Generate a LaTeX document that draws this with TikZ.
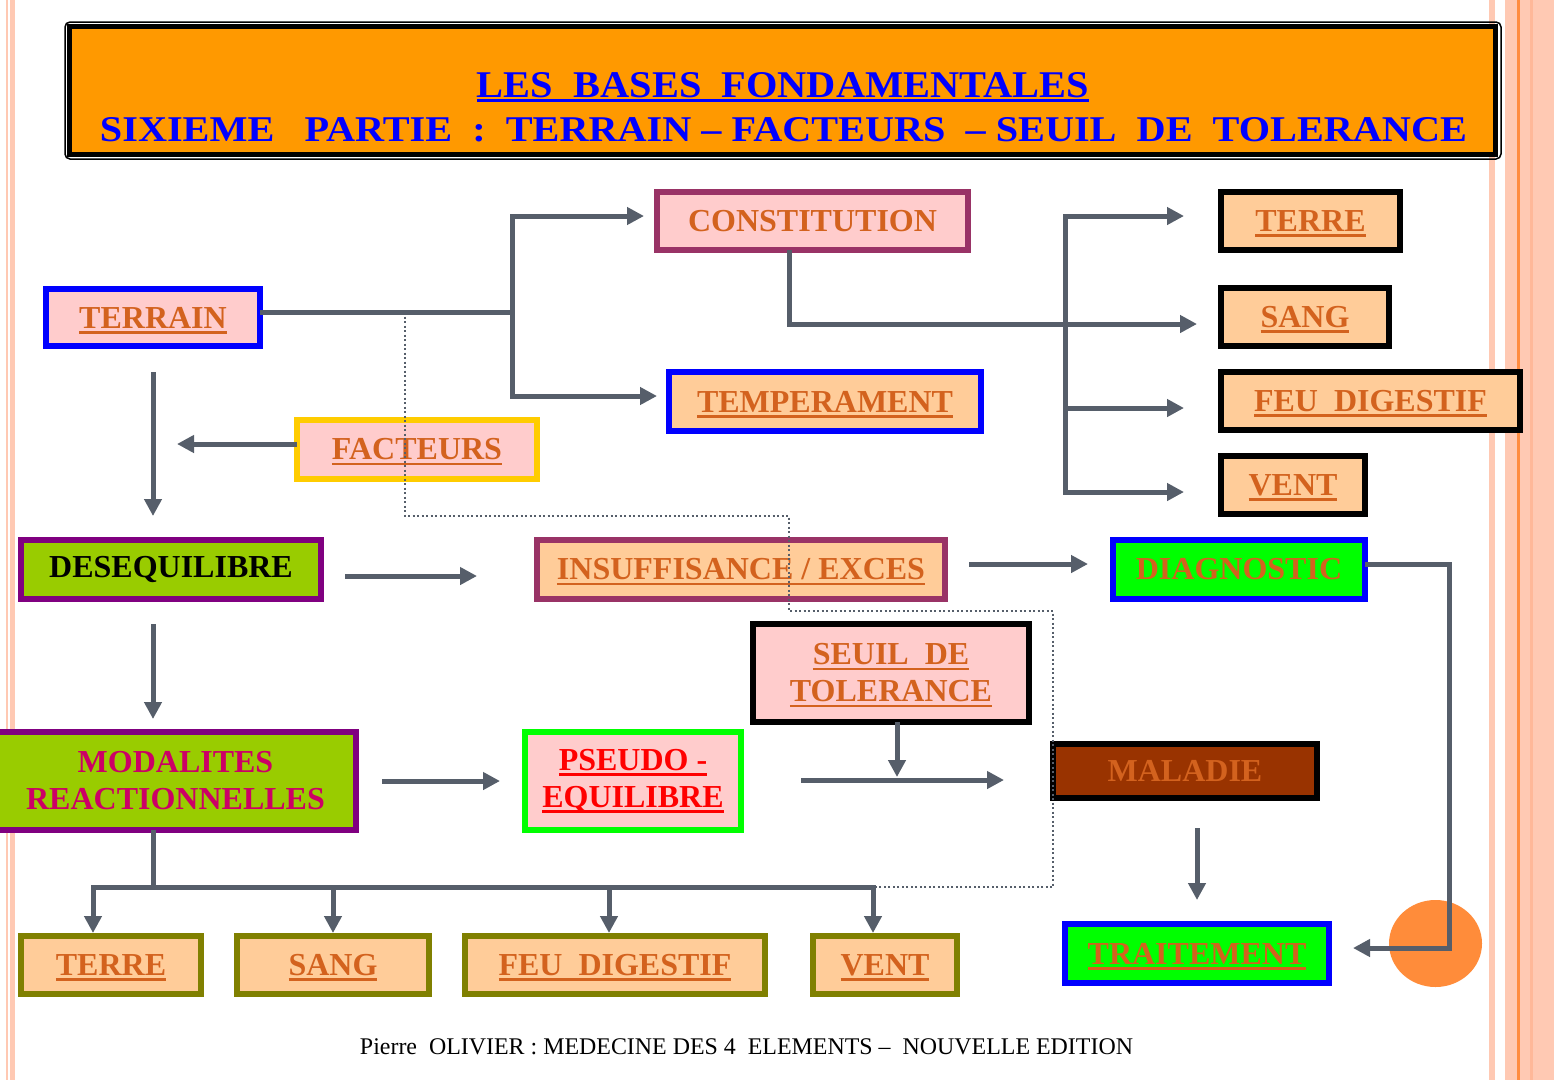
\documentclass[tikz,border=0pt]{standalone}
\usepackage{fontspec}
\setmainfont{Liberation Serif}
\usepackage{graphicx}
\usetikzlibrary{arrows.meta}
\definecolor{linegray}{RGB}{86,94,106}
\definecolor{pinkF}{HTML}{FFCCCC}
\definecolor{peachF}{HTML}{FFCC99}
\definecolor{greenF}{HTML}{00FF00}
\definecolor{limeF}{HTML}{99CC00}
\definecolor{purpB}{HTML}{800080}
\definecolor{roseB}{HTML}{993366}
\definecolor{goldB}{HTML}{FFCC00}
\definecolor{oliveB}{HTML}{808000}
\definecolor{brownF}{HTML}{993300}
\definecolor{magT}{HTML}{CC0066}
\definecolor{txt}{RGB}{211,98,30}
\definecolor{stripeP}{HTML}{FFC9B3}
\definecolor{stripeO}{HTML}{FF8C40}
\definecolor{stripeD}{HTML}{FFB899}
\definecolor{ellC}{HTML}{FF8C3A}
\definecolor{titleF}{HTML}{FF9900}
\newcommand\ulx[2][-5.5pt]{\leavevmode\setbox0=\hbox{#2}\rlap{\smash{\rule[#1]{\wd0}{2.7pt}}}\box0}
\begin{document}
\begin{tikzpicture}[x=1pt,y=-1pt,
  box/.style={draw, line width=6pt, inner sep=0pt, outer sep=0pt, align=center,
    font=\bfseries\fontsize{32}{37}\selectfont, text=txt},
  conn/.style={draw=linegray, line width=5pt},
  arr/.style={conn, -{Triangle[length=17pt,width=17pt]}},
  dotline/.style={draw=linegray, line width=2.2pt, dash pattern=on 2pt off 2.5pt}]
\useasboundingbox (0,0) rectangle (1554,1080);
\fill[white] (0,0) rectangle (1554,1080);
% side stripes
\fill[stripeP] (6,0) rectangle (15,1080);
\fill[white] (8,0) rectangle (9.5,1080);
\fill[stripeP] (1489,0) rectangle (1495,1080);
\fill[stripeP] (1505,0) rectangle (1554,1080);
\fill[stripeO] (1517,0) rectangle (1519.5,1080);
\fill[stripeD] (1530,0) rectangle (1533,1080);
% title
\draw[line width=1.5pt, rounded corners=5pt] (65,22) rectangle (1501,159);
\node[draw=black, line width=5pt, fill=titleF, minimum width=1426pt, minimum height=128pt, inner sep=0pt] (titlebox) at (782.5,90.5) {};
\node[anchor=base, inner sep=0pt, text=blue] (title1) at (783,97)
  {\resizebox{612pt}{25pt}{\bfseries\fontsize{37}{40}\selectfont\ulx[-4.5pt]{LES\ \ BASES\ \ FONDAMENTALES}}};
\node[anchor=base, inner sep=0pt, text=blue] (title2) at (783.5,141)
  {\resizebox{1367pt}{24pt}{\bfseries\fontsize{37}{40}\selectfont SIXIEME\ \ \ PARTIE\ \ :\ \ TERRAIN -- FACTEURS\ \ -- SEUIL\ \ DE\ \ TOLERANCE}};
% nodes
\node[box, draw=roseB, fill=pinkF, minimum width=311pt, minimum height=58pt] (constitution) at (812.5,221) {CONSTITUTION};
\node[box, draw=blue, fill=pinkF, minimum width=214pt, minimum height=57pt] (terrain) at (153,317.5) {\ulx{TERRAIN}};
\node[box, draw=blue, fill=peachF, minimum width=312pt, minimum height=59pt] (temperament) at (825,401.5) {\ulx{TEMPERAMENT}};
\node[box, draw=goldB, fill=pinkF, minimum width=240pt, minimum height=59pt] (facteurs) at (417,449.5) {\ulx{FACTEURS}};
\node[box, draw=black, fill=peachF, minimum width=179pt, minimum height=58pt] (terreR) at (1310.5,221) {\ulx{TERRE}};
\node[box, draw=black, fill=peachF, minimum width=168pt, minimum height=58pt] (sangR) at (1305,317) {\ulx{SANG}};
\node[box, draw=black, fill=peachF, minimum width=299pt, minimum height=58pt] (feuR) at (1370.5,401) {\ulx{FEU\ \ DIGESTIF}};
\node[box, draw=black, fill=peachF, minimum width=144pt, minimum height=58pt] (ventR) at (1293,485) {\ulx{VENT}};
\node[box, draw=purpB, fill=limeF, text=black, minimum width=300pt, minimum height=59pt] (deseq) at (171,569.5) {DESEQUILIBRE};
\node[box, draw=roseB, fill=peachF, minimum width=408pt, minimum height=59pt] (insuff) at (741,569.5) {\ulx{INSUFFISANCE / EXCES}};
\node[box, draw=blue, fill=greenF, minimum width=252pt, minimum height=59pt] (diag) at (1239,569.5) {DIAGNOSTIC};
\node[box, draw=black, fill=pinkF, minimum width=276pt, minimum height=98pt] (seuil) at (891,673) {\ulx{SEUIL\ \ DE}\\\ulx{TOLERANCE}};
\node[box, draw=black, fill=brownF, minimum width=264pt, minimum height=54pt] (maladie) at (1185,771) {MALADIE};
\node[box, draw=purpB, fill=limeF, text=magT, minimum width=361pt, minimum height=98pt] (modal) at (175.5,781) {MODALITES\\REACTIONNELLES};
\node[box, draw=greenF, fill=pinkF, text=red, minimum width=216pt, minimum height=98pt] (pseudo) at (633,781) {\ulx{PSEUDO -}\\\ulx{EQUILIBRE}};
\node[box, draw=blue, fill=greenF, minimum width=264pt, minimum height=59pt] (trait) at (1197,953.5) {\ulx{TRAITEMENT}};
\node[box, draw=oliveB, fill=peachF, minimum width=180pt, minimum height=58pt] (terreB) at (111,965) {\ulx{TERRE}};
\node[box, draw=oliveB, fill=peachF, minimum width=192pt, minimum height=58pt] (sangB) at (333,965) {\ulx{SANG}};
\node[box, draw=oliveB, fill=peachF, minimum width=300pt, minimum height=58pt] (feuB) at (615,965) {\ulx{FEU\ \ DIGESTIF}};
\node[box, draw=oliveB, fill=peachF, minimum width=144pt, minimum height=58pt] (ventB) at (885,965) {\ulx{VENT}};
% orange disc
\fill[ellC] (1435.5,943.5) ellipse [x radius=46.5pt, y radius=43.5pt];
% coordinates
\coordinate (tb) at (512,312);
\coordinate (bt) at (512,216);
\coordinate (bb) at (512,396);
\coordinate (cd) at (789,324);
\coordinate (rt) at (1065,216);
\coordinate (rm) at (1065,408);
\coordinate (rb) at (1065,492);
\coordinate (ftip) at (177,444);
\coordinate (loop) at (1449,948);
\coordinate (pm) at (897,780);
\coordinate (mb) at (153,887);
\coordinate (bl) at (93,887);
\coordinate (br) at (873,887);
\coordinate (fb) at (609,887);
\coordinate (d0) at (405,312);
\coordinate (d1) at (789,516);
\coordinate (d2) at (1053,611);
% connectors
\draw[conn] (terrain.east |- tb) -- (tb);
\draw[arr, shorten >=13pt] (bb) -- (bt) -- (bt -| constitution.west);
\draw[arr, shorten >=12pt] (bt) -- (bb) -- (bb -| temperament.west);
\draw[arr, shorten >=24pt] (cd |- constitution.south) -- (cd) -- (cd -| sangR.west);
\draw[arr, shorten >=37pt] (rb) -- (rt) -- (rt -| terreR.west);
\draw[arr, shorten >=37pt] (rt) -- (rb) -- (rb -| ventR.west);
\draw[arr, shorten >=37pt] (rm) -- (rm -| feuR.west);
\draw[arr, shorten <=26pt, shorten >=24pt] (terrain.south) -- (terrain.south |- deseq.north);
\draw[arr] (ftip -| facteurs.west) -- (ftip);
\draw[arr, shorten <=24pt, shorten >=60pt] ([yshift=-6.5pt]deseq.east) -- ([yshift=-6.5pt]insuff.west);
\draw[arr, shorten <=25pt, shorten >=13pt] (terrain.south |- deseq.south) -- (terrain.south |- modal.north);
\draw[arr, shorten <=24pt, shorten >=25pt] ([yshift=5.5pt]insuff.east) -- ([yshift=5.5pt]diag.west);
\draw[arr, shorten >=24pt] ([yshift=5.5pt]diag.east) -| (loop) -- (loop -| trait.east);
\draw[arr, shorten <=26pt, shorten >=25pt] (modal.east) -- (pseudo.west);
\draw[arr, shorten <=60pt, shorten >=49pt] (pseudo.east |- pm) -- (pm -| maladie.west);
\draw[arr, shorten >=3pt] (seuil.south -| pm) -- (pm);
\draw[arr, shorten <=30pt, shorten >=24pt] (maladie.south -| trait.north) -- (trait.north);
\draw[conn] (modal.south -| mb) -- (mb);
\draw[arr, shorten >=3pt] (br) -- (bl) -- (bl |- terreB.north);
\draw[arr, shorten >=3pt] (bl) -- (br) -- (br |- ventB.north);
\draw[arr, shorten >=3pt] (sangB.north |- mb) -- (sangB.north);
\draw[arr, shorten >=3pt] (fb) -- (fb |- feuB.north);
% dotted link
\draw[dotline] (d0) |- (d1) |- (d2) |- (br);
% footer
\node[anchor=base, inner sep=0pt] (footer) at (746.5,1054)
  {\resizebox{773pt}{!}{\fontsize{23}{27}\selectfont Pierre\ \ OLIVIER : MEDECINE DES 4\ \ ELEMENTS --\ \ NOUVELLE EDITION}};
\end{tikzpicture}
\end{document}
